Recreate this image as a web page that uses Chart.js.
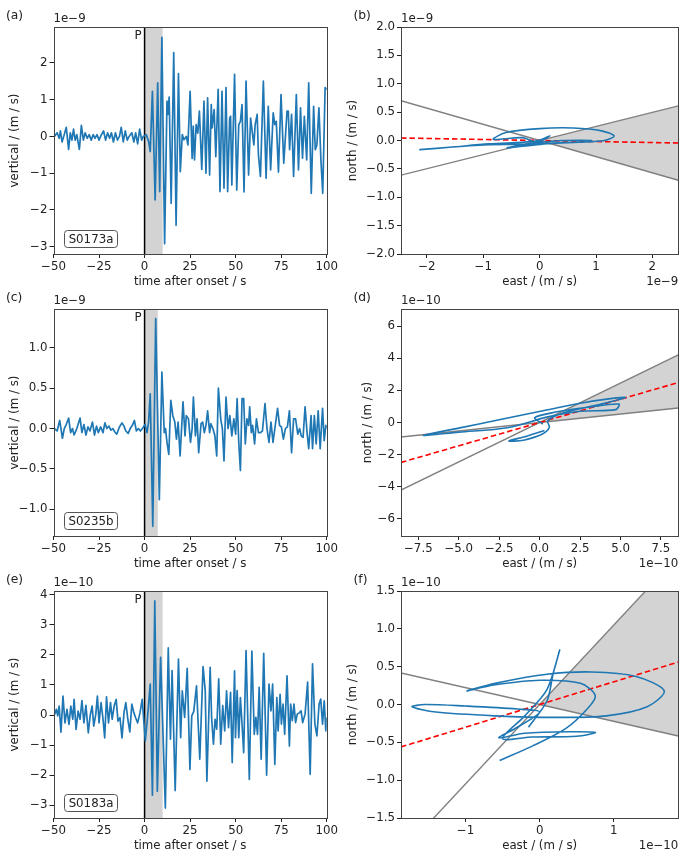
<!DOCTYPE html>
<html>
<head>
<meta charset="utf-8">
<script src="https://cdn.jsdelivr.net/npm/chart.js@4.4.1/dist/chart.umd.min.js"></script>
<style>
  html, body { margin: 0; padding: 0; background: #fff; width: 683px; height: 851px; overflow: hidden; }
  canvas { position: absolute; }
</style>
</head>
<body>
<canvas id="pa" width="340" height="290" style="left:0px;top:0px"></canvas>
<canvas id="pb" width="343" height="290" style="left:340px;top:0px"></canvas>
<canvas id="pc" width="340" height="290" style="left:0px;top:282px"></canvas>
<canvas id="pd" width="343" height="290" style="left:340px;top:282px"></canvas>
<canvas id="pe" width="340" height="290" style="left:0px;top:564px"></canvas>
<canvas id="pf" width="343" height="290" style="left:340px;top:564px"></canvas>
<script>
// ---- data (velocities in units of the offset shown on each axis) ----

// (a) S0173a vertical, x1e-9
var timeA = [-49.5,-48.0,-46.9,-46.2,-45.3,-44.1,-43.0,-41.7,-40.8,-39.9,-39.0,-38.1,-37.2,-35.8,-34.7,-33.6,-32.6,-31.5,-30.4,-29.3,
  -28.2,-27.2,-26.1,-25.0,-23.7,-22.5,-21.4,-20.3,-19.2,-18.2,-17.1,-16.0,-14.9,-13.8,-12.8,-11.7,-10.6,-9.5,-8.5,-7.0,
  -5.9,-4.9,-3.8,-2.7,-1.6,-0.7,0.9,2.2,3.1,4.3,5.8,7.2,8.3,9.5,11.0,12.3,12.8,13.5,14.6,16.0,17.3,18.6,19.6,20.7,
  21.6,22.9,23.8,25.0,26.1,26.7,27.4,28.3,29.2,30.1,31.4,32.6,33.7,34.6,35.7,36.6,37.1,38.2,39.1,40.4,41.4,42.5,43.6,
  44.7,45.6,46.7,47.2,47.9,49.4,50.6,51.7,52.6,53.5,54.6,55.7,57.1,58.2,59.3,60.0,60.7,61.8,62.5,63.6,65.2,66.7,67.9,
  69.2,70.6,71.5,72.3,73.5,74.9,76.4,78.2,78.9,79.6,80.7,81.8,83.3,84.5,85.6,86.7,87.7,89.0,90.1,91.5,92.8,93.7,94.6,
  95.7,96.8,97.8,99.1,100.0];
var vertA = [0.0,0.1,-0.05,0.15,-0.15,0.05,0.25,-0.35,0.1,-0.1,0.2,-0.1,0.05,-0.35,0.3,-0.1,0.1,-0.05,0.05,-0.1,
  0.05,-0.05,0.05,-0.1,0.05,0.15,-0.1,0.1,-0.05,0.1,-0.15,0.1,-0.1,0.0,0.25,-0.15,0.15,-0.1,0.0,0.1,
  -0.15,0.1,-0.2,0.2,-0.1,0.0,0.05,-0.13,-0.41,1.23,-1.73,1.46,-1.5,2.7,-2.92,0.96,0.6,1.07,-1.82,2.28,-2.42,1.71,-0.96,0.05,
  -0.09,0.0,-0.23,1.23,-0.6,0.28,-0.64,0.32,0.09,0.69,-0.9,0.96,-1.0,1.05,-1.05,0.87,0.23,0.73,-0.55,1.28,-1.5,1.23,-1.41,
  1.33,-1.5,0.5,0.55,-1.32,1.69,-1.46,0.32,0.41,0.87,-1.51,1.51,-1.05,0.5,0.05,-0.23,0.32,0.6,-0.5,-1.09,1.51,-1.14,0.82,
  -0.91,0.64,0.32,0.41,-0.97,1.14,-0.73,0.69,0.69,-0.36,0.6,-1.09,1.14,-0.91,0.78,-0.59,0.55,-0.64,1.46,-1.55,0.82,-0.36,-0.23,
  0.78,-0.64,-1.55,1.33,1.28];

// (c) S0235b vertical, x1e-9
var timeC = [-49.5,-48.0,-46.6,-45.1,-44.1,-43.0,-41.7,-40.6,-39.6,-38.7,-37.2,-35.4,-34.4,-33.3,-32.2,-31.1,-30.0,-28.6,-27.5,-26.4,
  -25.4,-24.1,-22.8,-21.8,-20.7,-19.6,-18.5,-17.4,-16.4,-15.3,-13.8,-12.4,-11.3,-10.3,-9.0,-7.9,-6.7,-5.6,-4.5,-3.4,
  -2.3,-0.9,0.3,1.3,2.2,3.1,4.5,6.1,8.1,9.5,10.8,11.5,12.3,13.3,14.4,15.5,16.6,17.5,18.4,19.5,21.1,22.2,22.9,24.1,
  25.2,26.1,26.8,27.9,28.8,29.7,31.0,31.9,32.8,33.7,34.6,35.7,36.4,37.5,38.6,39.6,40.5,41.8,42.7,43.6,44.7,45.8,46.8,
  47.9,49.0,50.0,50.8,51.7,52.6,53.5,54.4,55.3,56.2,57.1,57.7,58.6,59.3,60.4,61.4,62.5,63.6,64.7,66.1,67.2,68.3,69.4,
  70.5,71.5,73.0,74.1,75.1,76.2,77.3,78.4,79.5,80.7,81.8,82.9,84.1,85.1,86.0,87.0,88.1,89.2,90.1,91.4,92.2,93.2,94.2,
  95.3,96.4,97.7,98.6,99.5,100.0];
var vertC = [0.0,-0.03,0.1,-0.12,0.0,0.05,0.13,-0.05,0.0,-0.08,0.0,0.13,-0.05,0.05,-0.08,0.02,-0.03,0.08,-0.08,0.03,
  -0.05,0.02,-0.05,0.07,0.0,0.03,-0.02,0.0,-0.04,-0.07,0.02,0.07,0.03,-0.03,-0.06,0.0,0.04,0.1,-0.03,0.0,
  -0.03,0.01,0.05,-0.05,0.08,0.43,-1.21,1.36,-0.88,0.7,-0.05,0.0,-0.17,-0.32,0.35,0.16,0.08,-0.13,0.08,-0.34,0.33,-0.09,0.16,0.12,
  -0.17,0.0,0.39,-0.09,0.12,-0.3,0.06,0.08,-0.05,0.04,0.22,-0.05,0.06,0.0,-0.09,-0.34,0.5,0.12,0.0,-0.4,0.39,0.0,0.16,
  -0.09,0.12,-0.07,0.37,-0.17,-0.52,0.37,0.37,-0.19,0.12,0.04,0.27,-0.05,0.04,-0.19,0.12,-0.05,-0.05,-0.03,0.31,0.0,-0.17,0.08,
  -0.17,0.0,0.25,0.04,0.02,-0.13,0.0,0.02,0.22,-0.3,0.12,0.12,-0.07,0.0,-0.09,-0.11,0.27,-0.05,-0.25,0.16,-0.25,0.16,-0.19,
  0.22,-0.25,0.25,-0.15,0.04,0.0];

// (e) S0183a vertical, x1e-10
var timeE = [-49.5,-48.4,-47.7,-46.9,-45.9,-44.8,-43.7,-42.6,-41.5,-40.5,-39.4,-38.7,-37.6,-36.5,-35.4,-34.4,-33.3,-32.2,-30.9,-29.9,
  -28.8,-27.9,-26.8,-25.9,-25.0,-23.9,-22.8,-21.9,-20.9,-19.8,-18.7,-17.8,-16.7,-15.6,-14.6,-13.5,-12.4,-11.3,-10.3,-9.2,
  -8.1,-7.0,-5.9,-4.9,-3.8,-2.5,-1.3,0.4,1.6,3.1,4.3,5.6,7.0,8.8,11.4,13.0,14.2,15.1,16.8,18.6,19.8,20.7,22.0,23.4,
  24.9,25.9,27.0,28.5,30.3,32.1,33.3,34.2,36.0,36.8,37.8,38.7,39.6,40.7,41.8,42.9,44.0,45.0,46.1,47.2,48.1,49.4,49.9,
  50.8,51.7,52.6,53.5,54.4,55.7,57.5,58.9,60.2,61.1,62.0,62.9,64.0,65.4,67.0,68.3,69.4,70.3,71.5,72.6,73.3,74.4,75.1,
  76.0,76.9,78.2,79.5,80.2,81.1,82.0,82.9,83.8,85.1,85.9,86.8,88.1,89.5,90.9,92.2,93.5,94.6,95.8,96.7,97.7,98.6,99.5,100.0];
var vertE = [0.0,0.19,-0.03,0.3,-0.57,0.63,-0.26,0.19,-0.31,0.3,-0.14,0.52,-0.48,0.13,-0.14,0.48,-0.26,0.32,-0.59,-0.03,
  0.3,-0.37,0.02,0.63,-0.26,0.41,-0.14,-0.76,0.6,-0.26,0.41,-0.14,0.3,0.52,-0.2,-0.09,-0.76,0.08,0.41,-0.14,
  -0.56,0.36,0.08,-0.09,-0.26,0.08,0.52,-0.86,-0.08,1.03,-2.66,3.79,-2.53,1.92,-3.09,2.23,-0.8,1.48,-2.51,1.86,-0.75,0.8,-0.08,1.55,
  -1.81,-0.03,0.12,0.97,-1.47,1.61,0.81,-2.2,1.58,-0.08,-0.97,-0.14,-0.47,1.2,-0.97,0.31,-0.53,0.8,-0.42,0.75,-1.58,1.47,-0.75,
  0.81,-0.75,0.58,-0.3,-1.25,2.14,-2.14,2.12,-0.64,-0.08,-0.64,0.92,-1.47,2.05,-2.0,1.03,0.14,1.03,-1.64,0.58,-0.53,0.69,-0.3,
  0.36,-0.64,1.3,-1.03,0.36,-0.19,0.36,-0.25,0.03,0.08,0.14,-0.25,0.03,1.09,-1.97,1.7,-0.3,-0.69,0.36,0.53,-0.3,0.47,-0.53,-0.08];

// particle motion (east, north), polarisation cone edges and fitted direction (slopes north/east)
var eastB  = [-0.05,0.18,-0.05,-0.3,-0.82,-0.6,0.0,0.6,1.1,1.32,1.15,0.7,0.2,-0.3,-0.58,-0.2,0.4,0.92,0.5,0.0,-1.0,-2.12,-1.6,-0.9,-0.15,0.05];
var northB = [-0.02,0.08,-0.03,0.05,0.02,0.14,0.21,0.22,0.17,0.08,0.0,-0.03,-0.05,-0.1,-0.13,-0.06,0.0,0.0,-0.04,-0.06,-0.08,-0.16,-0.12,-0.06,-0.02,0.02];
var coneB = [-0.285, 0.248];
var fitB = -0.018;

var eastD  = [0.2,-0.3,1.0,3.0,4.9,4.7,2.5,0.5,-2.0,-5.0,-7.2,-5.0,-2.5,0.5,2.5,4.5,5.3,4.0,1.5,0.5,0.6,0.2,-1.0,-1.9,-0.8,0.3];
var northD = [-0.1,0.3,0.65,0.95,1.15,0.8,0.7,0.35,-0.33,-0.6,-0.8,-0.35,0.17,0.79,1.2,1.5,1.55,1.2,0.6,0.1,-0.3,-0.7,-1.1,-1.15,-0.85,-0.5];
var coneD = [0.105, 0.49];
var fitD = 0.29;

var eastF  = [-0.54,-0.1,0.35,0.65,0.75,0.55,0.0,-0.6,-0.98,-0.55,0.1,0.7,1.3,1.68,1.45,0.9,0.2,-0.6,-1.4,-1.72,-1.55,-1.0,-0.3,0.0,-0.3,-0.55,-0.2,0.4,0.75,0.5,-0.1,-0.5,-0.2,0.1,0.27,0.18,0.1,-0.15];
var northF = [-0.74,-0.55,-0.32,-0.05,0.12,0.28,0.32,0.26,0.18,0.29,0.4,0.43,0.37,0.18,-0.03,-0.15,-0.17,-0.15,-0.1,-0.03,0.0,-0.02,-0.06,-0.1,-0.3,-0.44,-0.38,-0.36,-0.37,-0.42,-0.43,-0.45,-0.15,0.2,0.72,0.4,0.05,-0.3];
var coneF = [-0.223, 1.05];
var fitF = 0.30;

// axis ticks
var timeTicks = [-50, -25, 0, 25, 50, 75, 100];
var ticksVertA = [-3, -2, -1, 0, 1, 2];
var ticksVertC = [-1.0, -0.5, 0.0, 0.5, 1.0];
var ticksVertE = [-3, -2, -1, 0, 1, 2, 3, 4];
var ticksEastB = [-2, -1, 0, 1, 2];
var ticksNorthB = [-2.0, -1.5, -1.0, -0.5, 0.0, 0.5, 1.0, 1.5, 2.0];
var ticksEastD = [-7.5, -5.0, -2.5, 0.0, 2.5, 5.0, 7.5];
var ticksNorthD = [-6, -4, -2, 0, 2, 4, 6];
var ticksEastF = [-1, 0, 1];
var ticksNorthF = [-1.5, -1.0, -0.5, 0.0, 0.5, 1.0, 1.5];

// ---- drawing ----
var FONT = '"DejaVu Sans", sans-serif';
var FS = 11.8;
var BLUE = '#1f77b4';
Chart.defaults.font.family = FONT;
Chart.defaults.font.size = FS;
Chart.defaults.color = '#222';

function pts(xs, ys) {
  return xs.map(function (x, i) { return { x: x, y: ys[i] }; });
}

function fmt(dec) {
  return function (v) {
    return (dec ? Number(v).toFixed(dec) : String(Math.round(v))).replace('-', '\u2212');
  };
}

// frame, panel letter, offset text, P marker and event box
var annot = {
  id: 'annot',
  afterDraw: function (chart, args, o) {
    var ctx = chart.ctx, a = chart.chartArea;
    ctx.save();
    ctx.strokeStyle = '#444';
    ctx.lineWidth = 1;
    var l = Math.round(a.left) + 0.5, t = Math.round(a.top) + 0.5;
    ctx.strokeRect(l, t, Math.round(a.right) - Math.round(a.left), Math.round(a.bottom) - Math.round(a.top));

    ctx.fillStyle = '#222';
    ctx.textBaseline = 'middle';
    ctx.textAlign = 'left';
    ctx.font = '12.3px ' + FONT;
    ctx.fillText(o.label, a.left - 47.5, a.top - 11.5);
    ctx.font = FS + 'px ' + FONT;
    ctx.fillText(o.offset, a.left, a.top - 8.5);
    if (o.offsetX) {
      ctx.textAlign = 'right';
      ctx.fillText(o.offsetX, a.right, a.bottom + 28);
    }
    if (o.event) {
      var x0 = chart.scales.x.getPixelForValue(0);
      ctx.textAlign = 'right';
      ctx.fillText('P', x0 - 3, a.top + 9);
      var bx = a.left + 10.5, by = a.bottom - 24, bw = 53, bh = 17;
      ctx.beginPath();
      ctx.roundRect(Math.round(bx) + 0.5, Math.round(by) + 0.5, bw, bh, 3);
      ctx.fillStyle = '#fff';
      ctx.fill();
      ctx.strokeStyle = '#555';
      ctx.stroke();
      ctx.fillStyle = '#222';
      ctx.textAlign = 'center';
      ctx.fillText(o.event, bx + bw / 2 + 0.5, by + bh / 2 + 1);
    }
    ctx.restore();
  }
};

function axis(o) {
  var ticks = o.ticks;
  var s = {
    type: 'linear',
    min: o.min,
    max: o.max,
    afterBuildTicks: function (sc) { sc.ticks = ticks.map(function (v) { return { value: v }; }); },
    grid: { drawOnChartArea: false, drawTicks: true, tickLength: 4, tickColor: '#222', tickWidth: 1 },
    border: { display: false },
    ticks: { padding: 2, autoSkip: false, maxRotation: 0, callback: fmt(o.dec), color: '#222' },
    title: { display: true, text: o.title, color: '#222', font: { size: FS } }
  };
  if (o.horizontal) {
    s.afterFit = function (sc) { sc.height = 36; };
    s.title.padding = { top: 0, bottom: 1.2 };
  } else {
    s.afterFit = function (sc) { sc.width = o.width; };
    s.title.padding = { top: o.titlePad, bottom: 0 };
  }
  return s;
}

function options(o) {
  return {
    responsive: false,
    animation: false,
    events: [],
    layout: { padding: { left: 0, top: 27, right: o.padRight, bottom: 0 } },
    elements: { point: { radius: 0 } },
    plugins: { legend: { display: false }, tooltip: { enabled: false }, annot: o.annot },
    scales: { x: o.x, y: o.y }
  };
}

function wavePanel(id, time, vert, yMin, yMax, yTicks, dec, spanEnd, label, offset, eventName) {
  new Chart(document.getElementById(id), {
    type: 'line',
    data: {
      datasets: [
        { data: pts(time, vert), borderColor: BLUE, borderWidth: 1.7, borderJoinStyle: 'round', fill: false, tension: 0 },
        { data: [{ x: 0, y: yMin }, { x: 0, y: yMax }], borderColor: '#000', borderWidth: 1.5, fill: false },
        { data: [{ x: 0, y: yMax }, { x: spanEnd, y: yMax }], borderWidth: 0, borderColor: 'rgba(0,0,0,0)',
          backgroundColor: '#d3d3d3', fill: 'start' }
      ]
    },
    options: options({
      padRight: 9,
      annot: { label: label, offset: offset, event: eventName },
      x: axis({ min: -50, max: 100, ticks: timeTicks, dec: 0, title: 'time after onset / s', horizontal: true }),
      y: axis({ min: yMin, max: yMax, ticks: yTicks, dec: dec, title: 'vertical / (m / s)', width: 53.5, titlePad: 8 })
    }),
    plugins: [annot]
  });
}

function pmPanel(id, east, north, xLim, yLim, xTicks, xDec, yTicks, yDec, cone, fit, label, offset, yWidth, yTitlePad) {
  var edge = function (m) { return [{ x: -xLim, y: -xLim * m }, { x: xLim, y: xLim * m }]; };
  new Chart(document.getElementById(id), {
    type: 'line',
    data: {
      datasets: [
        { data: pts(east, north), borderColor: BLUE, borderWidth: 1.6, borderJoinStyle: 'round', fill: false, tension: 0.3 },
        { data: edge(fit), borderColor: '#ff0000', borderWidth: 1.6, borderDash: [5.5, 3], fill: false },
        { data: edge(cone[0]), borderColor: '#808080', borderWidth: 1.4, fill: false },
        { data: edge(cone[1]), borderColor: '#808080', borderWidth: 1.4, fill: false },
        { data: [{ x: 0, y: 0 }, { x: xLim, y: xLim * cone[0] }, { x: xLim, y: xLim * cone[1] }, { x: 0, y: 0 }],
          borderWidth: 0, borderColor: 'rgba(0,0,0,0)', backgroundColor: '#d3d3d3', fill: 'shape', clip: 0 }
      ]
    },
    options: options({
      padRight: 4.7,
      annot: { label: label, offset: offset, offsetX: offset },
      x: axis({ min: -xLim, max: xLim, ticks: xTicks, dec: xDec, title: 'east / (m / s)', horizontal: true }),
      y: axis({ min: -yLim, max: yLim, ticks: yTicks, dec: yDec, title: 'north / (m / s)', width: yWidth, titlePad: yTitlePad })
    }),
    plugins: [annot]
  });
}

wavePanel('pa', timeA, vertA, -3.2, 2.98, ticksVertA, 0, 10, '(a)', '1e\u22129', 'S0173a');
wavePanel('pc', timeC, vertC, -1.33, 1.48, ticksVertC, 1, 7.3, '(c)', '1e\u22129', 'S0235b');
wavePanel('pe', timeE, vertE, -3.42, 4.12, ticksVertE, 0, 10, '(e)', '1e\u221210', 'S0183a');

pmPanel('pb', eastB, northB, 2.46, 2.0, ticksEastB, 0, ticksNorthB, 1, coneB, fitB, '(b)', '1e\u22129', 61, 6);
pmPanel('pd', eastD, northD, 8.57, 7.06, ticksEastD, 1, ticksNorthD, 0, coneD, fitD, '(d)', '1e\u221210', 61, 21);
pmPanel('pf', eastF, northF, 1.87, 1.5, ticksEastF, 0, ticksNorthF, 1, coneF, fitF, '(f)', '1e\u221210', 61, 6);
</script>
</body>
</html>
